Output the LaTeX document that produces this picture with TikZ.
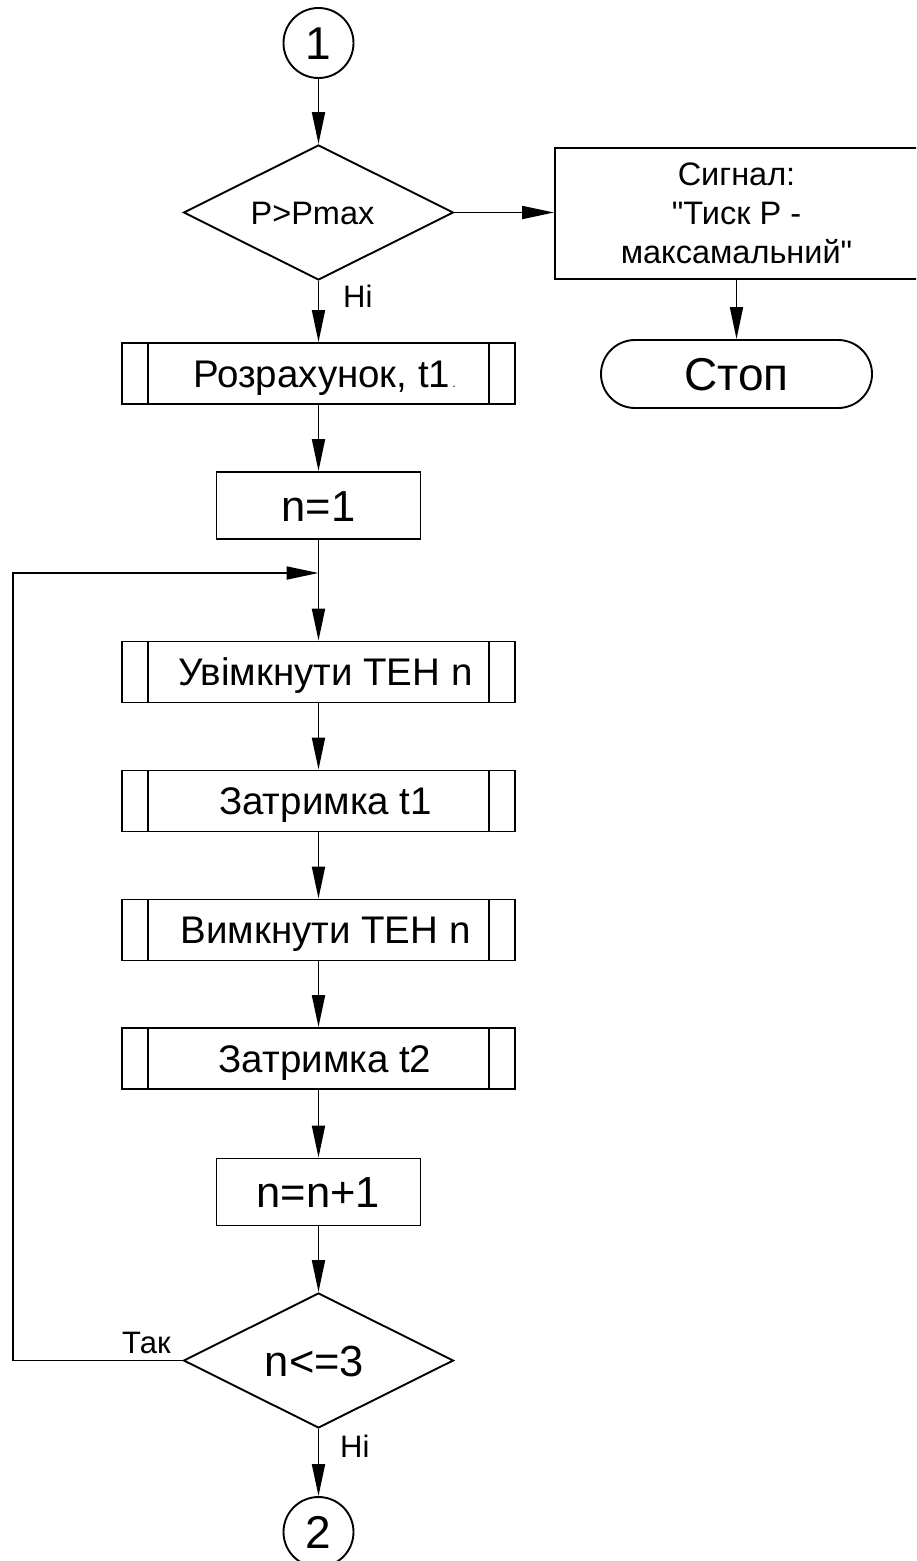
\documentclass[tikz,border=0pt]{standalone}
\usepackage{fontspec}
\setmainfont{Liberation Sans}[Ligatures=TeXOff]
\usetikzlibrary{arrows.meta,shapes.geometric}

\begin{document}
\begin{tikzpicture}[x=1pt,y=-1pt,
  every node/.style={inner sep=0pt},
  ln/.style={line width=1.9pt},
  flow/.style={ln,-{Triangle[length=32pt,width=13pt]}},
  boxfont/.style={font=\fontsize{38.5}{46}\selectfont, text height=27.6pt, text depth=0pt},
  bigfont/.style={font=\fontsize{43.5}{52}\selectfont, text height=31.1pt, text depth=0pt},
  proc/.style={draw, ln, rectangle, boxfont, minimum width=393pt, minimum height=61pt,
    path picture={
      \draw[line width=1.9pt]
        ([xshift=26pt]path picture bounding box.north west) -- ([xshift=26pt]path picture bounding box.south west)
        ([xshift=-26pt]path picture bounding box.north east) -- ([xshift=-26pt]path picture bounding box.south east);}},
  assign/.style={draw, ln, rectangle, bigfont, minimum width=204pt, minimum height=67pt},
  decision/.style={draw, ln, diamond, aspect=2, minimum width=270pt, minimum height=135pt},
  connector/.style={draw, ln, circle, minimum size=70pt, font=\fontsize{46}{54}\selectfont,
    text height=32.9pt, text depth=0pt},
  note/.style={font=\fontsize{31}{37}\selectfont, anchor=base west}
]
\fill[white] (0,0) rectangle (916,1561);
\useasboundingbox (0,0) rectangle (916,1561);
\clip (0,0) rectangle (916,1561);

% main column
\node[connector] (c1) at (318.5,43) {1};
\node[decision, font=\fontsize{32.5}{39}\selectfont, text height=23.3pt, text depth=0pt]
  (d1) at (318.5,212.5) {P>Pmax\hspace*{12pt}};
\node[proc] (r1) at (318.5,373.5) {\hspace*{12pt}Розрахунок, t1{\fontsize{12}{12}\selectfont\,.}};
\node[assign] (n1) at (318.5,505.5) {n=1};
\coordinate (j) at (318.5,573);
\node[proc] (p1) at (318.5,672) {\hspace*{14pt}Увімкнути ТЕН n};
\node[proc] (p2) at (318.5,801) {\hspace*{14pt}Затримка t1};
\node[proc] (p3) at (318.5,930) {\hspace*{14pt}Вимкнути ТЕН n};
\node[proc] (p4) at (318.5,1058.5) {\hspace*{13pt}Затримка t2};
\node[assign] (n2) at (318.5,1192) {n=n+1};
\node[decision, bigfont] (d2) at (318.5,1360.5) {n<=3\hspace*{8pt}};
\node[connector] (c2) at (318.5,1532) {2};
\coordinate (lp) at (13,1360.5);
\coordinate (lt) at (13,573);

% alarm branch
\node[draw, ln, rectangle, minimum width=363pt, minimum height=131pt, align=center,
  font=\fontsize{32.5}{39}\selectfont] (sig) at (736.5,213.5)
  {Сигнал:\\"Тиск Р -\\максамальний"};
\node[draw, ln, rectangle, rounded corners=34pt, minimum width=271pt, minimum height=68pt,
  font=\fontsize{46}{54}\selectfont, text height=32.9pt, text depth=0pt] (stop) at (736.5,374) {Стоп};

% branch labels
\node[note] (no1) at (343,307) {Ні};
\node[note] (yes) at (122,1353) {Так};
\node[note] (no2) at (340,1457) {Ні};

% connectors
\draw[flow] (c1) -- (d1);
\draw[flow] (d1.east) -- (sig.west |- d1.east);
\draw[flow] (sig) -- (stop);
\draw[flow] (d1) -- (r1);
\draw[flow] (r1) -- (n1);
\draw[ln] (n1.south) -- (j);
\draw[flow] (j) -- (p1);
\draw[flow] (p1) -- (p2);
\draw[flow] (p2) -- (p3);
\draw[flow] (p3) -- (p4);
\draw[flow] (p4) -- (n2);
\draw[flow] (n2) -- (d2);
\draw[flow] (d2) -- (c2);
\draw[flow] (d2.west) -- (lp) -- (lt) -- (j);
\end{tikzpicture}
\end{document}
